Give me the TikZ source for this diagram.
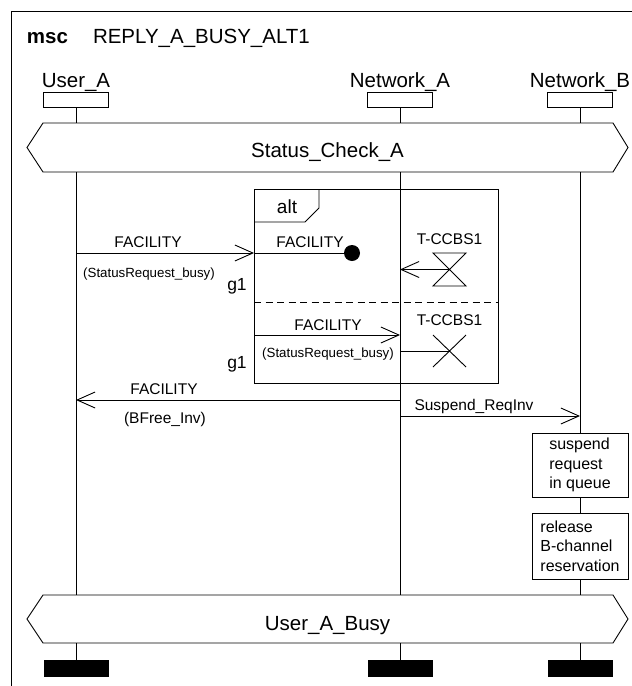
\documentclass[tikz,border=0pt]{standalone}
\usepackage{fontspec}
\setmainfont{Liberation Sans}
\usetikzlibrary{arrows.meta}
\begin{document}
\begin{tikzpicture}[x=1pt,y=-1pt,line width=0.9pt,
  every node/.style={inner sep=0pt,outer sep=0pt},
  msgarrow/.style={draw,-{Straight Barb[length=18pt,width=16pt,line width=0.9pt]}},
  big/.style={font=\fontsize{20.5}{24}\selectfont},
  msgfont/.style={font=\fontsize{15.5}{18}\selectfont},
  parfont/.style={font=\fontsize{13.3}{16}\selectfont},
  gatefont/.style={font=\fontsize{17.5}{20}\selectfont},
  headbox/.style={draw,fill=white,minimum width=65pt,minimum height=15pt,anchor=north},
  endbar/.style={fill=black,minimum width=65pt,minimum height=17pt,anchor=north},
  actionbox/.style={draw,fill=white,minimum width=96pt,align=left,
     font=\fontsize{16}{19.5}\selectfont},
]
\useasboundingbox (0,0) rectangle (632,686);
% frame
\draw (11,686) -- (11,11) -- (632,11);
\node[anchor=base west,font=\bfseries\fontsize{20.5}{24}\selectfont] (msc) at (27,43) {msc};
\node[big,anchor=base west] (title) at (93,43) {REPLY\_A\_BUSY\_ALT1};

% instance heads
\node[big,anchor=base] (uaname) at (76,87) {User\_A};
\node[big,anchor=base] (naname) at (400,87) {Network\_A};
\node[big,anchor=base] (nbname) at (580,87) {Network\_B};
\node[headbox] (uabox) at (76,92) {};
\node[headbox] (nabox) at (400,92) {};
\node[headbox] (nbbox) at (580,92) {};

% condition hexagons
\draw (27,147.5) -- (43,123) -- (613,123) -- (628,147.5) -- (613,172) -- (43,172) -- cycle;
\node[big,anchor=base] (cond1) at (327.5,157) {Status\_Check\_A};
\draw (27,619) -- (43,595) -- (613,595) -- (628,619) -- (613,643) -- (43,643) -- cycle;
\node[big,anchor=base] (cond2) at (327.5,630) {User\_A\_Busy};

% lifeline coordinates
\coordinate (ua1) at (76,123); \coordinate (ua2) at (76,172);
\coordinate (ua3) at (76,595); \coordinate (ua4) at (76,643);
\coordinate (na1) at (400,123); \coordinate (na2) at (400,172);
\coordinate (na3) at (400,595); \coordinate (na4) at (400,643);
\coordinate (nb1) at (580,123); \coordinate (nb2) at (580,172);
\coordinate (nb3) at (580,595); \coordinate (nb4) at (580,643);

% end bars
\node[endbar] (uaend) at (76,660) {};
\node[endbar] (naend) at (400,660) {};
\node[endbar] (nbend) at (580,660) {};

% lifelines
\draw (uabox.south) -- (ua1) (ua2) -- (ua3) (ua4) -- (uaend.north);
\draw (nabox.south) -- (na1) (na2) -- (na3) (na4) -- (naend.north);
\draw (nbbox.south) -- (nb1) (nb2) -- (nb3) (nb4) -- (nbend.north);

% alt inline expression
\draw (254,189) rectangle (498,383);
\draw (254,222) -- (305,222) -- (319,208) -- (319,189);
\node[anchor=base,font=\fontsize{19}{22}\selectfont] (altlbl) at (287,213) {alt};
\draw[dash pattern=on 7pt off 4.5pt] (254,302) -- (498,302);

% message 1: User_A -> gate g1
\coordinate (m1s) at (76,253); \coordinate (g1a) at (254,253);
\draw[msgarrow] (m1s) -- (g1a);
\node[msgfont,anchor=base] (m1l) at (148,247) {FACILITY};
\node[parfont,anchor=base] (m1p) at (149,277) {(StatusRequest\_busy)};
\node[gatefont,anchor=base] (g1l1) at (237,290) {g1};

% lost message inside alt
\node[circle,fill=black,minimum size=16pt] (lost) at (352,253) {};
\draw (g1a) -- (lost);
\node[msgfont,anchor=base] (m2l) at (310,247) {FACILITY};

% timer T-CCBS1 timeout
\coordinate (t1) at (449.5,269.5);
\draw (433,253) -- (466,253) -- (433,286) -- (466,286) -- cycle;
\node[msgfont,anchor=base] (t1l) at (449.5,244) {T-CCBS1};
\coordinate (na270) at (400,269.5);
\draw[msgarrow] (t1) -- (na270);

% second alternative
\coordinate (g1b) at (254,335); \coordinate (na335) at (400,335);
\draw[msgarrow] (g1b) -- (na335);
\node[msgfont,anchor=base] (m3l) at (328,330) {FACILITY};
\node[parfont,anchor=base] (m3p) at (328,357) {(StatusRequest\_busy)};
\node[gatefont,anchor=base] (g1l2) at (237,368) {g1};

% timer stop
\coordinate (t2) at (449.5,351);
\coordinate (na351) at (400,351);
\draw (433,335) -- (466,367) (466,335) -- (433,367);
\draw (na351) -- (t2);
\node[msgfont,anchor=base] (t2l) at (449.5,325) {T-CCBS1};

% message Network_A -> User_A
\coordinate (na400) at (400,400); \coordinate (ua400) at (76,400);
\draw[msgarrow] (na400) -- (ua400);
\node[msgfont,anchor=base] (m4l) at (164,394) {FACILITY};
\node[msgfont,anchor=base] (m4p) at (165,423) {(BFree\_Inv)};

% Suspend_ReqInv
\coordinate (na416) at (400,416); \coordinate (nb416) at (580,416);
\draw[msgarrow] (na416) -- (nb416);
\node[msgfont,anchor=base] (m5l) at (474,410) {Suspend\_ReqInv};

% actions
\node[actionbox,minimum height=64pt] (act1) at (580,465) {suspend\\request\\in queue};
\node[actionbox,minimum height=66pt] (act2) at (580,546) {release\\B-channel\\reservation};
\end{tikzpicture}
\end{document}
